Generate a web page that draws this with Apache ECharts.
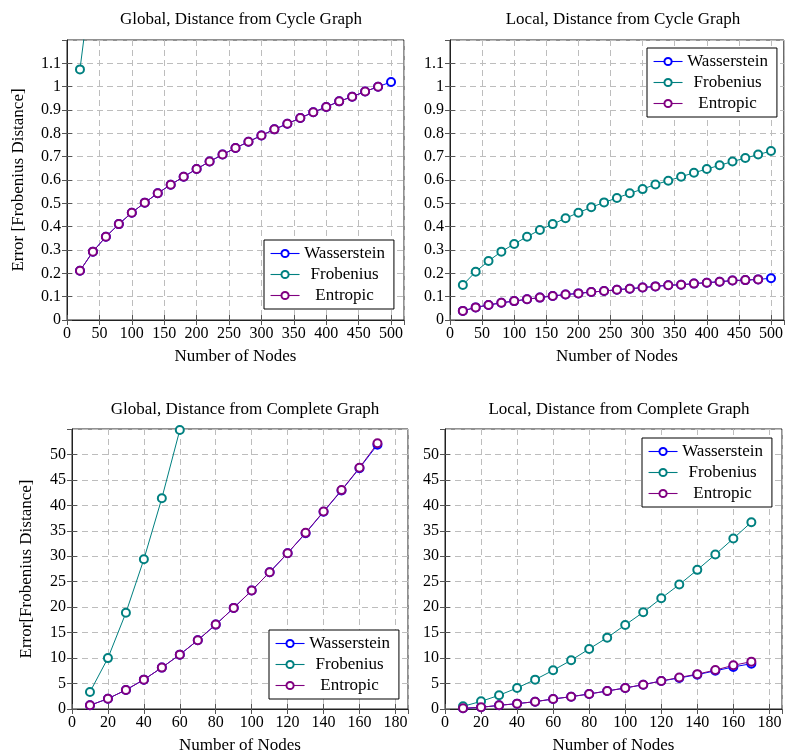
<!DOCTYPE html>
<html>
<head>
<meta charset="utf-8">
<script src="https://cdn.jsdelivr.net/npm/echarts@6/dist/echarts.min.js"></script>
<style>
  html, body { margin: 0; padding: 0; background: #fff; }
  #chart { width: 786px; height: 755px; }
</style>
</head>
<body>
<div id="chart"></div>
<script>
// node counts
const xCycle = [20, 40, 60, 80, 100, 120, 140, 160, 180, 200, 220, 240, 260, 280, 300, 320, 340, 360, 380, 400, 420, 440, 460, 480, 500];
const xComplete = [10, 20, 30, 40, 50, 60, 70, 80, 90, 100, 110, 120, 130, 140, 150, 160, 170];

// global, distance from cycle graph
const cycleGlobalWass = [0.211, 0.293, 0.357, 0.411, 0.46, 0.503, 0.543, 0.58, 0.614, 0.647, 0.679, 0.709, 0.737, 0.764, 0.791, 0.817, 0.841, 0.866, 0.89, 0.913, 0.937, 0.957, 0.979, 1.0, 1.02];
const cycleGlobalFrob = [1.074, 1.51];
const cycleGlobalEntr = [0.211, 0.293, 0.357, 0.411, 0.46, 0.503, 0.543, 0.58, 0.614, 0.647, 0.679, 0.709, 0.737, 0.764, 0.791, 0.817, 0.841, 0.866, 0.89, 0.913, 0.937, 0.957, 0.979, 1.0];

// local, distance from cycle graph
const cycleLocalWass = [0.039, 0.054, 0.064, 0.074, 0.081, 0.089, 0.096, 0.103, 0.109, 0.114, 0.12, 0.124, 0.13, 0.134, 0.139, 0.144, 0.149, 0.151, 0.156, 0.16, 0.164, 0.169, 0.171, 0.174, 0.179];
const cycleLocalFrob = [0.15, 0.207, 0.253, 0.293, 0.326, 0.357, 0.386, 0.411, 0.436, 0.46, 0.483, 0.504, 0.523, 0.543, 0.561, 0.581, 0.597, 0.614, 0.631, 0.647, 0.663, 0.679, 0.694, 0.709, 0.724];
const cycleLocalEntr = [0.039, 0.054, 0.064, 0.074, 0.081, 0.089, 0.096, 0.103, 0.109, 0.114, 0.12, 0.124, 0.13, 0.134, 0.139, 0.144, 0.149, 0.151, 0.156, 0.16, 0.164, 0.169, 0.171, 0.174];

// global, distance from complete graph
const completeGlobalWass = [0.72, 2.03, 3.74, 5.77, 8.13, 10.68, 13.5, 16.58, 19.86, 23.26, 26.87, 30.6, 34.53, 38.73, 42.92, 47.31, 51.9];
const completeGlobalFrob = [3.34, 10.0, 18.9, 29.4, 41.4, 54.8];
const completeGlobalEntr = [0.72, 2.03, 3.74, 5.77, 8.13, 10.68, 13.5, 16.58, 19.86, 23.26, 26.87, 30.6, 34.6, 38.8, 43.0, 47.4, 52.2];

// local, distance from complete graph
const completeLocalWass = [0.13, 0.33, 0.72, 1.05, 1.44, 1.97, 2.42, 2.95, 3.54, 4.13, 4.78, 5.5, 6.09, 6.75, 7.5, 8.26, 8.9];
const completeLocalFrob = [0.52, 1.5, 2.69, 4.13, 5.77, 7.6, 9.57, 11.8, 14.02, 16.51, 19.0, 21.76, 24.44, 27.33, 30.34, 33.49, 36.7];
const completeLocalEntr = [0.13, 0.33, 0.72, 1.05, 1.44, 1.97, 2.42, 2.95, 3.54, 4.13, 4.78, 5.5, 6.2, 6.85, 7.65, 8.58, 9.3];

const seriesNames = ['Wasserstein', 'Frobenius', 'Entropic'];
const titles = ['Global, Distance from Cycle Graph', 'Local, Distance from Cycle Graph',
                'Global, Distance from Complete Graph', 'Local, Distance from Complete Graph'];

const FONT = '"Liberation Serif", "Times New Roman", serif';
const colors = { Wasserstein: '#0000ff', Frobenius: '#008080', Entropic: '#800080' };

function pairs(xs, ys) {
  return ys.map((y, i) => [xs[i], y]);
}

const panels = [
  { grid: { left: 67, top: 40, width: 337, height: 280 }, xMax: 520, xInt: 50, yMax: 1.2, yInt: 0.1,
    yName: 'Error [Frobenius Distance]', yGap: 40, title: [236, 6], legend: [264, 240],
    data: [pairs(xCycle, cycleGlobalWass), pairs(xCycle, cycleGlobalFrob), pairs(xCycle, cycleGlobalEntr)] },
  { grid: { left: 450, top: 40, width: 335, height: 280 }, xMax: 520, xInt: 50, yMax: 1.2, yInt: 0.1,
    yName: '', yGap: 40, title: [618, 6], legend: [647, 48],
    data: [pairs(xCycle, cycleLocalWass), pairs(xCycle, cycleLocalFrob), pairs(xCycle, cycleLocalEntr)] },
  { grid: { left: 72, top: 429, width: 336, height: 280 }, xMax: 187, xInt: 20, yMax: 55, yInt: 5,
    yName: 'Error[Frobenius Distance]', yGap: 37, title: [240, 396], legend: [269, 630],
    data: [pairs(xComplete, completeGlobalWass), pairs(xComplete, completeGlobalFrob), pairs(xComplete, completeGlobalEntr)] },
  { grid: { left: 445, top: 429, width: 337, height: 280 }, xMax: 187, xInt: 20, yMax: 55, yInt: 5,
    yName: '', yGap: 40, title: [614, 396], legend: [642, 438],
    data: [pairs(xComplete, completeLocalWass), pairs(xComplete, completeLocalFrob), pairs(xComplete, completeLocalEntr)] }
];

const tickStyle = { inside: true, length: 5, lineStyle: { color: '#555' } };
const gridLine = { show: true, lineStyle: { color: '#bdbdbd', width: 1, type: [6, 4] } };
const labelStyle = { color: '#000', fontSize: 16, fontFamily: FONT };

const option = {
  animation: false,
  backgroundColor: '#fff',
  title: [], grid: [], xAxis: [], yAxis: [], legend: [], series: []
};

panels.forEach((p, i) => {
  option.title.push({
    text: titles[i], left: p.title[0], top: p.title[1], textAlign: 'center',
    textStyle: { fontFamily: FONT, fontSize: 17, fontWeight: 'normal', color: '#000' }
  });
  option.grid.push(Object.assign({ show: true, borderColor: '#222', borderWidth: 1, backgroundColor: 'transparent' }, p.grid));

  // bottom / top x axes
  option.xAxis.push({
    gridIndex: i, type: 'value', min: 0, max: p.xMax, interval: p.xInt, position: 'bottom',
    name: 'Number of Nodes', nameLocation: 'middle', nameGap: 28,
    nameTextStyle: { fontFamily: FONT, fontSize: 17, color: '#000' },
    axisLine: { show: true, onZero: false, lineStyle: { color: '#222' } },
    axisTick: tickStyle,
    axisLabel: Object.assign({ margin: 6, showMaxLabel: false }, labelStyle),
    splitLine: gridLine
  });
  option.xAxis.push({
    gridIndex: i, type: 'value', min: 0, max: p.xMax, interval: p.xInt, position: 'top',
    axisLine: { show: false }, axisTick: tickStyle, axisLabel: { show: false }, splitLine: { show: false }
  });

  // left / right y axes
  option.yAxis.push({
    gridIndex: i, type: 'value', min: 0, max: p.yMax, interval: p.yInt, position: 'left',
    name: p.yName, nameLocation: 'middle', nameGap: p.yGap,
    nameTextStyle: { fontFamily: FONT, fontSize: 17, color: '#000' },
    axisLine: { show: true, onZero: false, lineStyle: { color: '#222' } },
    axisTick: tickStyle,
    axisLabel: Object.assign({ margin: 6, showMaxLabel: false }, labelStyle),
    splitLine: gridLine
  });
  option.yAxis.push({
    gridIndex: i, type: 'value', min: 0, max: p.yMax, interval: p.yInt, position: 'right',
    axisLine: { show: false }, axisTick: tickStyle, axisLabel: { show: false }, splitLine: { show: false }
  });

  option.legend.push({
    data: seriesNames, orient: 'vertical', left: p.legend[0], top: p.legend[1],
    backgroundColor: '#fff', borderColor: '#000', borderWidth: 1,
    padding: [5, 9, 5, 6], itemGap: 4, itemWidth: 29, itemHeight: 9, itemTextGap: 5,
    selectedMode: false,
    lineStyle: { width: 1.1 },
    itemStyle: { borderWidth: 1 },
    formatter: name => '{c|' + name + '}',
    textStyle: {
      fontFamily: FONT, fontSize: 17, color: '#000',
      rich: { c: { width: 80, align: 'center', fontFamily: FONT, fontSize: 17, lineHeight: 17, color: '#000' } }
    }
  });

  seriesNames.forEach((name, k) => {
    option.series.push({
      name: name, type: 'line', xAxisIndex: 2 * i, yAxisIndex: 2 * i,
      data: p.data[k], symbol: 'emptyCircle', symbolSize: 8, clip: true,
      color: colors[name],
      lineStyle: { color: colors[name], width: 1 },
      itemStyle: { color: colors[name], borderColor: colors[name], borderWidth: 1 }
    });
  });
});

const chart = echarts.init(document.getElementById('chart'));
chart.setOption(option);
</script>
</body>
</html>
